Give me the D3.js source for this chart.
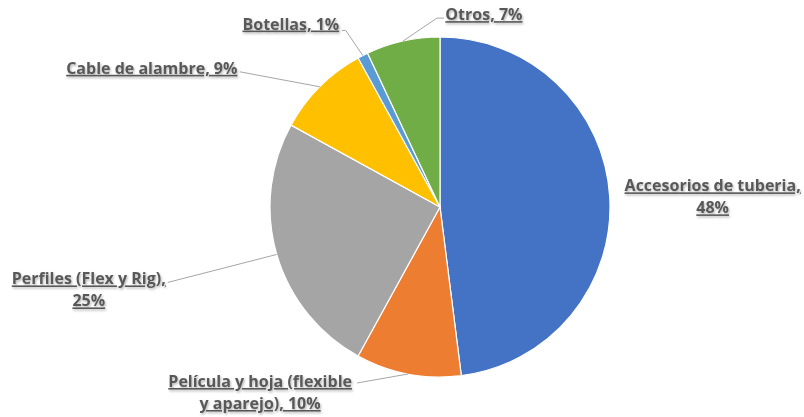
<!DOCTYPE html>
<html>
<head>
<meta charset="utf-8">
<script src="https://cdn.jsdelivr.net/npm/d3@7"></script>
<style>
  body { margin: 0; background: #fff; }
  text { font-family: "Open Sans", Lato, sans-serif; font-weight: bold; font-size: 16px; fill: #595959; text-decoration: underline; }
</style>
</head>
<body>
<div id="chart"></div>
<script>
// data, clockwise from 12 o'clock
var categories = ["Accesorios de tuberia", "Película y hoja (flexible y aparejo)", "Perfiles (Flex y Rig)", "Cable de alambre", "Botellas", "Otros"];
var values = [48, 10, 25, 9, 1, 7];
var labelLines = [
  ["Accesorios de tuberia,", "48%"],
  ["Película y hoja (flexible", "y aparejo), 10%"],
  ["Perfiles (Flex y Rig),", "25%"],
  ["Cable de alambre, 9%"],
  ["Botellas, 1%"],
  ["Otros, 7%"]
];
var colors = ["#4472C4", "#ED7D31", "#A5A5A5", "#FFC000", "#5B9BD5", "#70AD47"];

var width = 804, height = 417;
var cx = 440, cy = 207, radius = 170;

// label placement relative to the slice's outer mid point (dx, dy of text centre/first baseline)
// leader: null = no line, otherwise the point where the line meets the label
var labelLayout = [
  { dx: 103, dy: -5, leader: null },
  { dx: -148, dy: 13, leader: [-51, 9] },
  { dx: -188, dy: 30, leader: [-109, 28] },
  { dx: -168, dy: -13, leader: [-80, -15] },
  { dx: -72, dy: -26, leader: [-21, -25], knee: [-17, -25] },
  { dx: 81, dy: -21, leader: [41, -23], knee: [34, -23] }
];

var svg = d3.select("#chart").append("svg")
  .attr("width", width)
  .attr("height", height);

var defs = svg.append("defs");
var f = defs.append("filter").attr("id", "shadow")
  .attr("x", "-10%").attr("y", "-30%").attr("width", "120%").attr("height", "160%");
f.append("feDropShadow")
  .attr("dx", 1).attr("dy", 1.5).attr("stdDeviation", 1)
  .attr("flood-color", "#000").attr("flood-opacity", 0.3);

var pie = d3.pie().sort(null).value(function(d) { return d; });
var arcs = pie(values);

var arc = d3.arc().innerRadius(0).outerRadius(radius);

var g = svg.append("g").attr("transform", "translate(" + cx + "," + cy + ")");

g.selectAll("path.slice")
  .data(arcs)
  .enter()
  .append("path")
  .attr("class", "slice")
  .attr("d", arc)
  .attr("fill", function(d, i) { return colors[i]; })
  .attr("stroke", "#fff")
  .attr("stroke-width", 1.2);

// outer mid point of a slice
function edge(d) {
  var a = (d.startAngle + d.endAngle) / 2;
  return [radius * Math.sin(a), -radius * Math.cos(a)];
}

// leader lines
arcs.forEach(function(d, i) {
  var L = labelLayout[i];
  if (!L.leader) return;
  var p = edge(d);
  var pts = [p];
  if (L.knee) pts.push([p[0] + L.knee[0], p[1] + L.knee[1]]);
  pts.push([p[0] + L.leader[0], p[1] + L.leader[1]]);
  g.append("path")
    .attr("d", d3.line()(pts))
    .attr("fill", "none")
    .attr("stroke", "#A6A6A6")
    .attr("stroke-width", 1);
});

// labels
arcs.forEach(function(d, i) {
  var L = labelLayout[i];
  var p = edge(d);
  var t = g.append("text")
    .attr("text-anchor", "middle")
    .attr("filter", "url(#shadow)")
    .attr("x", p[0] + L.dx)
    .attr("y", p[1] + L.dy);
  labelLines[i].forEach(function(line, j) {
    t.append("tspan")
      .attr("x", p[0] + L.dx)
      .attr("dy", j === 0 ? 0 : 22)
      .text(line);
  });
});
</script>
</body>
</html>
